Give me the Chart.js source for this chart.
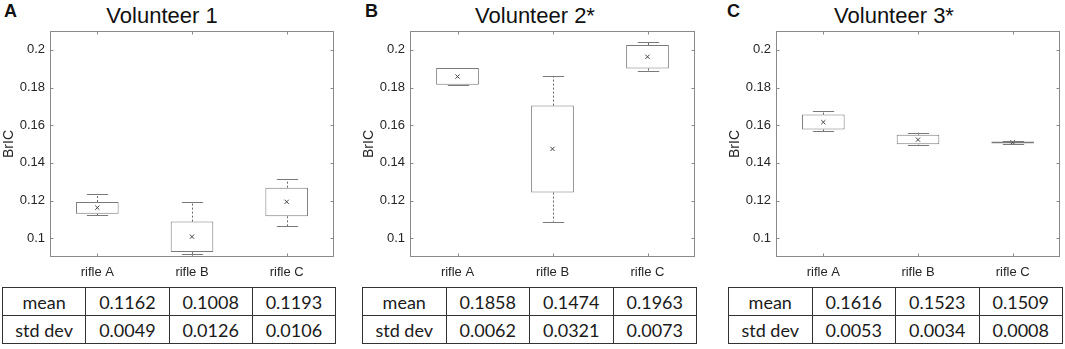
<!DOCTYPE html>
<html>
<head>
<meta charset="utf-8">
<script src="https://cdn.jsdelivr.net/npm/chart.js@4/dist/chart.umd.min.js"></script>
<style>
  body { margin: 0; background: #fff; width: 1065px; height: 349px; position: relative; overflow: hidden; font-family: 'Liberation Sans', Arial, sans-serif; }
  .panel-letter { position: absolute; top: 1px; font-size: 18px; font-weight: bold; line-height: 20px; color: #111; }
  .title { position: absolute; top: 1px; width: 200px; text-align: center; font-size: 22px; line-height: 30px; color: #111; }
  .plot { position: absolute; top: 0; height: 285px; }
  table.stats { position: absolute; top: 287px; border-collapse: collapse; font-family: Lato, 'Open Sans', sans-serif; font-size: 18px; color: #1a1a1a; }
  table.stats td { border: 1.5px solid #333; height: 27px; padding: 0; text-align: center; }
</style>
</head>
<body>

<div class="panel-letter" style="left:4px">A</div>
<div class="title" style="left:62px">Volunteer 1</div>
<div class="plot" style="left:0;width:345px"><canvas id="c1"></canvas></div>
<table class="stats" id="t1" style="left:2px;width:334px"></table>

<div class="panel-letter" style="left:365px">B</div>
<div class="title" style="left:435px">Volunteer 2*</div>
<div class="plot" style="left:360px;width:345px"><canvas id="c2"></canvas></div>
<table class="stats" id="t2" style="left:362px;width:335px"></table>

<div class="panel-letter" style="left:727px">C</div>
<div class="title" style="left:794px">Volunteer 3*</div>
<div class="plot" style="left:726px;width:339px"><canvas id="c3"></canvas></div>
<table class="stats" id="t3" style="left:728px;width:335px"></table>

<script>
// categories and axis ticks
const categories = ['rifle A', 'rifle B', 'rifle C'];
const yTicks = [0.1, 0.12, 0.14, 0.16, 0.18, 0.2];
const yTickLabels = ['0.1', '0.12', '0.14', '0.16', '0.18', '0.2'];
const rowLabels = ['mean', 'std dev'];

// Volunteer 1
const v1Min  = [0.1123, 0.0914, 0.1062];
const v1Q1   = [0.1129, 0.0926, 0.1116];
const v1Q3   = [0.1192, 0.1088, 0.1268];
const v1Max  = [0.1233, 0.1192, 0.1314];
const v1Mean = [0.1162, 0.1008, 0.1193];
const v1Std  = [0.0049, 0.0126, 0.0106];

// Volunteer 2*
const v2Min  = [0.1815, 0.1088, 0.1887];
const v2Q1   = [0.1815, 0.1242, 0.1901];
const v2Q3   = [0.1903, 0.1704, 0.2026];
const v2Max  = [0.1903, 0.1861, 0.2039];
const v2Mean = [0.1858, 0.1474, 0.1963];
const v2Std  = [0.0062, 0.0321, 0.0073];

// Volunteer 3*
const v3Min  = [0.1568, 0.1497, 0.1501];
const v3Q1   = [0.1577, 0.1499, 0.1503];
const v3Q3   = [0.1656, 0.1549, 0.1513];
const v3Max  = [0.1674, 0.1561, 0.1515];
const v3Mean = [0.1616, 0.1523, 0.1509];
const v3Std  = [0.0053, 0.0034, 0.0008];

const frameColor = '#8a8a8a';
const boxColor = '#7a7a7a';

// whiskers, frame and inward tick marks, all placed through the chart's scales
const boxExtras = {
  id: 'boxExtras',
  afterDatasetsDraw(chart, args, opts) {
    const ctx = chart.ctx;
    const x = chart.scales.x, y = chart.scales.y;
    const area = chart.chartArea;
    const bars = chart.getDatasetMeta(0).data;
    ctx.save();
    ctx.lineWidth = 1;
    for (let i = 0; i < opts.min.length; i++) {
      const cx = Math.round(x.getPixelForValue(i)) + 0.5;
      const half = bars[i].width / 4;
      const yMin = y.getPixelForValue(opts.min[i]);
      const yMax = y.getPixelForValue(opts.max[i]);
      const yQ1 = y.getPixelForValue(opts.q1[i]);
      const yQ3 = y.getPixelForValue(opts.q3[i]);
      ctx.strokeStyle = '#666';
      ctx.setLineDash([2, 2]);
      ctx.beginPath();
      ctx.moveTo(cx, yQ3); ctx.lineTo(cx, yMax);
      ctx.moveTo(cx, yQ1); ctx.lineTo(cx, yMin);
      ctx.stroke();
      ctx.setLineDash([]);
      ctx.strokeStyle = boxColor;
      ctx.beginPath();
      ctx.moveTo(cx - half, Math.round(yMax) + 0.5); ctx.lineTo(cx + half, Math.round(yMax) + 0.5);
      ctx.moveTo(cx - half, Math.round(yMin) + 0.5); ctx.lineTo(cx + half, Math.round(yMin) + 0.5);
      ctx.stroke();
    }
    // frame
    ctx.strokeStyle = frameColor;
    const l = Math.round(area.left) + 0.5, r = Math.round(area.right) - 0.5;
    const t = Math.round(area.top) + 0.5, b = Math.round(area.bottom) - 0.5;
    ctx.strokeRect(l, t, r - l, b - t);
    // inward ticks
    ctx.beginPath();
    yTicks.forEach(v => {
      const py = Math.round(y.getPixelForValue(v)) + 0.5;
      ctx.moveTo(l, py); ctx.lineTo(l + 3, py);
      ctx.moveTo(r, py); ctx.lineTo(r - 3, py);
    });
    categories.forEach((c, i) => {
      const px = Math.round(x.getPixelForValue(i)) + 0.5;
      ctx.moveTo(px, b); ctx.lineTo(px, b - 3);
      ctx.moveTo(px, t); ctx.lineTo(px, t + 3);
    });
    ctx.stroke();
    ctx.restore();
  }
};

function makeChart(id, mins, q1, q3, maxs, means, padRight) {
  const boxes = q1.map((v, i) => [v, q3[i]]);
  new Chart(document.getElementById(id), {
    type: 'bar',
    data: {
      labels: categories,
      datasets: [{
        data: boxes,
        order: 2,
        backgroundColor: '#ffffff',
        borderColor: boxColor,
        borderWidth: 1,
        borderSkipped: false,
        barPercentage: 0.45,
        categoryPercentage: 1
      }, {
        type: 'line',
        data: means,
        order: 1,
        showLine: false,
        pointStyle: 'crossRot',
        pointRadius: 3,
        borderColor: '#444',
        backgroundColor: '#444',
        borderWidth: 1
      }]
    },
    options: {
      responsive: true,
      maintainAspectRatio: false,
      animation: false,
      layout: { padding: { top: 31, right: padRight, bottom: 0, left: 0 } },
      plugins: {
        legend: { display: false },
        tooltip: { enabled: false },
        boxExtras: { min: mins, max: maxs, q1: q1, q3: q3 }
      },
      scales: {
        x: {
          offset: true,
          grid: { display: false, drawTicks: false },
          border: { display: false },
          ticks: { padding: 8, color: '#262626', font: { family: 'Liberation Sans', size: 13 } },
          afterFit: s => { s.height = 28; }
        },
        y: {
          min: 0.09,
          max: 0.21,
          grid: { display: false, drawTicks: false },
          border: { display: false },
          afterBuildTicks: s => { s.ticks = yTicks.map(v => ({ value: v })); },
          ticks: {
            padding: 5,
            color: '#262626',
            font: { family: 'Liberation Sans', size: 13 },
            callback: (v, i) => yTickLabels[i]
          },
          title: {
            display: true,
            text: 'BrIC',
            color: '#262626',
            padding: { top: 1, bottom: 0 },
            font: { family: 'Liberation Sans', size: 14 }
          },
          afterFit: s => { s.width = 50; }
        }
      }
    },
    plugins: [boxExtras]
  });
}

function makeTable(id, means, stds) {
  const t = document.getElementById(id);
  [means, stds].forEach((row, r) => {
    const tr = document.createElement('tr');
    const th = document.createElement('td');
    th.textContent = rowLabels[r];
    th.style.width = '25%';
    tr.appendChild(th);
    row.forEach(v => {
      const td = document.createElement('td');
      td.textContent = v.toFixed(4);
      td.style.width = '25%';
      tr.appendChild(td);
    });
    t.appendChild(tr);
  });
}

makeChart('c1', v1Min, v1Q1, v1Q3, v1Max, v1Mean, 11);
makeChart('c2', v2Min, v2Q1, v2Q3, v2Max, v2Mean, 10);
makeChart('c3', v3Min, v3Q1, v3Q3, v3Max, v3Mean, 4);

makeTable('t1', v1Mean, v1Std);
makeTable('t2', v2Mean, v2Std);
makeTable('t3', v3Mean, v3Std);
</script>
</body>
</html>
